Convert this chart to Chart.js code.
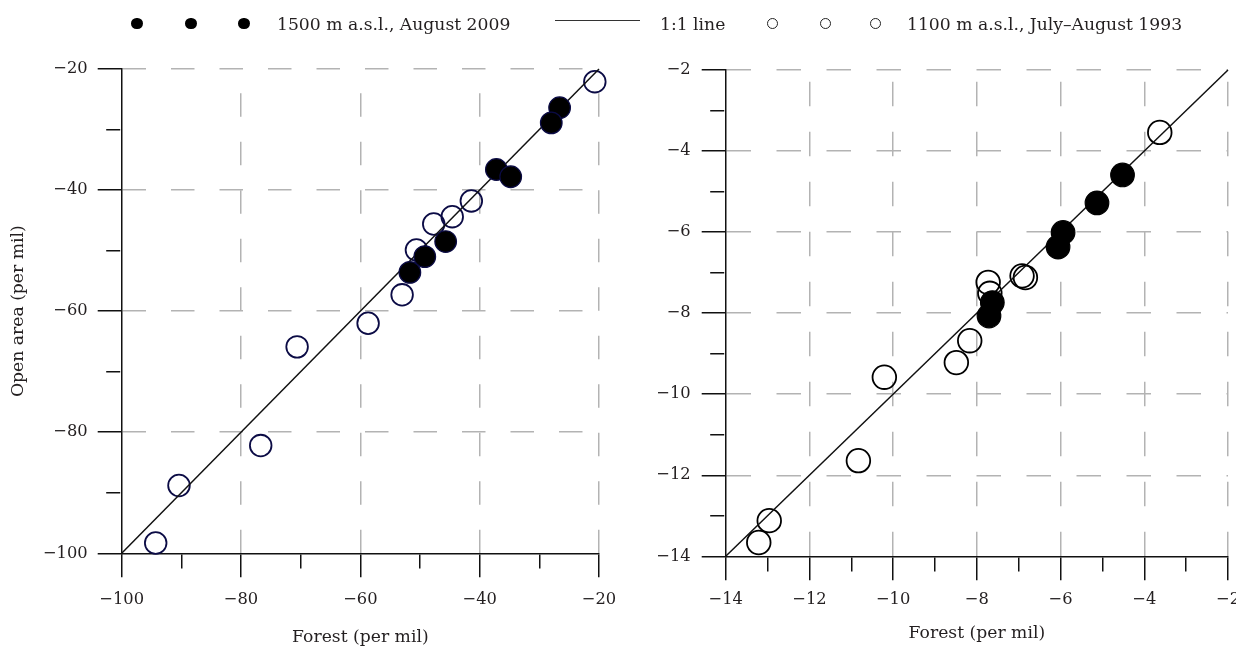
<!DOCTYPE html>
<html>
<head>
<meta charset="utf-8">
<script src="https://cdn.jsdelivr.net/npm/chart.js@4.4.1/dist/chart.umd.min.js"></script>
<style>
  html, body { margin: 0; padding: 0; background: #fff; }
  #wrap { position: relative; width: 1236px; height: 650px; overflow: hidden; }
  .panel { position: absolute; top: 0; }
  .lg { position: absolute; font-family: 'DejaVu Serif', serif; font-size: 17.2px; line-height: 20px; color: #231f20; white-space: nowrap; top: 14px; }
  .dot { position: absolute; top: 17.5px; width: 11.5px; height: 11.5px; border-radius: 50%; box-sizing: border-box; }
  .dot.fill { background: #000; }
  .dot.open { border: 1px solid #222; background: transparent; }
  .lgline { position: absolute; top: 20px; height: 1.3px; background: #333; }
</style>
</head>
<body>
<div id="wrap">
  <div class="panel" style="left:0;width:620px;height:650px"><canvas id="leftChart" width="620" height="650"></canvas></div>
  <div class="panel" style="left:620px;width:650px;height:650px"><canvas id="rightChart" width="650" height="650"></canvas></div>

  <span class="dot fill" style="left:131px"></span>
  <span class="dot fill" style="left:185px"></span>
  <span class="dot fill" style="left:238px"></span>
  <span class="lg" style="left:277px">1500 m a.s.l., August 2009</span>
  <span class="lgline" style="left:555px;width:85px"></span>
  <span class="lg" style="left:660px">1:1 line</span>
  <span class="dot open" style="left:766.5px"></span>
  <span class="dot open" style="left:819.5px"></span>
  <span class="dot open" style="left:869.5px"></span>
  <span class="lg" style="left:907px">1100 m a.s.l., July–August 1993</span>
</div>

<script>
const FONT = "'DejaVu Serif', serif";
const TEXT = '#231f20';

// ---------------- Left panel (per mil, -100 .. -20) ----------------
const leftMajor = [-100, -80, -60, -40, -20];
const leftMinor = [-90, -70, -50, -30];

const left2009Forest = [-26.6, -28.0, -37.2, -34.8, -45.7, -49.2, -51.7];
const left2009Open   = [-26.4, -28.9, -36.6, -37.8, -48.5, -51.0, -53.6];

const left1993Forest = [-20.7, -41.4, -44.6, -47.7, -50.6, -53.0, -58.7, -70.6, -76.7, -90.4, -94.3];
const left1993Open   = [-22.1, -41.8, -44.4, -45.6, -49.9, -57.3, -62.0, -65.9, -82.2, -88.8, -98.3];

// ---------------- Right panel (-14 .. -2) ----------------
const rightMajor = [-14, -12, -10, -8, -6, -4, -2];
const rightMinor = [-13, -11, -9, -7, -5, -3];

const right2009Forest = [-4.52, -5.13, -5.94, -6.06, -7.63, -7.71];
const right2009Open   = [-4.59, -5.28, -6.01, -6.37, -7.74, -8.07];

const right1993Forest = [-3.63, -7.73, -7.69, -6.92, -6.84, -8.17, -8.49, -10.21, -10.83, -12.96, -13.21];
const right1993Open   = [-3.54, -7.24, -7.51, -7.08, -7.12, -8.68, -9.22, -9.58, -11.64, -13.12, -13.66];

const pts = (xs, ys) => xs.map((x, i) => ({ x, y: ys[i] }));
const isMajor = (list, v) => list.some(m => Math.abs(m - v) < 1e-9);
const fmt = v => (v < 0 ? '\u2212' + Math.abs(v) : String(v));

function axis(o) {
  const all = [...o.major, ...o.minor].sort((a, b) => a - b);
  const min = o.major[0], max = o.major[o.major.length - 1];
  return {
    type: 'linear',
    position: o.position,
    min, max,
    afterBuildTicks: s => { s.ticks = all.map(v => ({ value: v })); },
    afterFit: o.fit,
    border: { display: true, color: '#111', width: 1.5, dash: o.dash, dashOffset: o.dashOffset },
    grid: {
      color: c => (c.tick && isMajor(o.major, c.tick.value) && c.tick.value !== min) ? '#b3b3b3' : 'rgba(0,0,0,0)',
      lineWidth: 1.5,
      tickLength: 24,
      tickColor: '#111',
      tickWidth: 1.5,
      // minor ticks: short mark next to the axis line
      tickBorderDash: c => (c.tick && !isMajor(o.major, c.tick.value)) ? o.minorDash : []
    },
    ticks: {
      autoSkip: false,
      maxRotation: 0,
      padding: o.pad,
      color: TEXT,
      font: { family: FONT, size: 16.3 },
      callback: v => isMajor(o.major, v) ? fmt(v) : ''
    },
    title: o.title ? {
      display: true,
      text: o.title,
      color: TEXT,
      font: { family: FONT, size: 17.2 },
      padding: o.titlePad
    } : { display: false }
  };
}

function makePanel(id, p) {
  const lo = p.major[0], hi = p.major[p.major.length - 1];
  return new Chart(document.getElementById(id), {
    type: 'scatter',
    data: {
      datasets: [
        {
          label: '1500 m a.s.l., August 2009',
          data: pts(p.fx, p.fy),
          pointRadius: p.r,
          pointBackgroundColor: '#000',
          pointBorderColor: p.edge,
          pointBorderWidth: 1.2,
          clip: false
        },
        {
          type: 'line',
          label: '1:1 line',
          data: [{ x: lo, y: lo }, { x: hi, y: hi }],
          borderColor: '#111',
          borderWidth: 1.5,
          pointRadius: 0,
          clip: false
        },
        {
          label: '1100 m a.s.l., July–August 1993',
          data: pts(p.ox, p.oy),
          pointRadius: p.r,
          pointBackgroundColor: 'rgba(0,0,0,0)',
          pointBorderColor: p.edge,
          pointBorderWidth: 1.8,
          clip: false
        }
      ]
    },
    options: {
      responsive: false,
      animation: false,
      events: [],
      layout: { padding: p.padding },
      plugins: { legend: { display: false }, tooltip: { enabled: false } },
      scales: {
        x: axis({
          position: 'bottom', major: p.major, minor: p.minor,
          dash: p.dash, dashOffset: p.xDashOffset, minorDash: [14, 100], pad: p.xPad,
          title: 'Forest (per mil)', titlePad: { top: 0, bottom: p.xTitleBottom },
          fit: s => { s.height = p.xHeight; s.paddingLeft = 0; s.paddingRight = 0; }
        }),
        y: axis({
          position: 'left', major: p.major, minor: p.minor,
          dash: p.dash, dashOffset: 0, minorDash: [0, 8.5, 14, 100], pad: p.yPad,
          title: p.yTitle, titlePad: { top: 8, bottom: 0 },
          fit: s => { s.width = p.yWidth; }
        })
      }
    }
  });
}

makePanel('leftChart', {
  major: leftMajor, minor: leftMinor,
  fx: left2009Forest, fy: left2009Open, ox: left1993Forest, oy: left1993Open,
  r: 10.8, edge: '#0b0b45',
  padding: { top: 69, right: 21, bottom: 0, left: 0 },
  yWidth: 121.7, xHeight: 96.7,
  dash: [23.5, 25], xDashOffset: 24.2,
  xPad: 13, yPad: 10, xTitleBottom: 2,
  yTitle: 'Open area (per mil)'
});

// canvas runs past the window edge so the last x label does not squeeze the plot
makePanel('rightChart', {
  major: rightMajor, minor: rightMinor,
  fx: right2009Forest, fy: right2009Open, ox: right1993Forest, oy: right1993Open,
  r: 11.8, edge: '#000',
  padding: { top: 70, right: 42, bottom: 0, left: 0 },
  yWidth: 105.7, xHeight: 93.7,
  dash: [24.5, 25.5], xDashOffset: 38.2,
  xPad: 10, yPad: 11, xTitleBottom: 6,
  yTitle: null
});
</script>
</body>
</html>
